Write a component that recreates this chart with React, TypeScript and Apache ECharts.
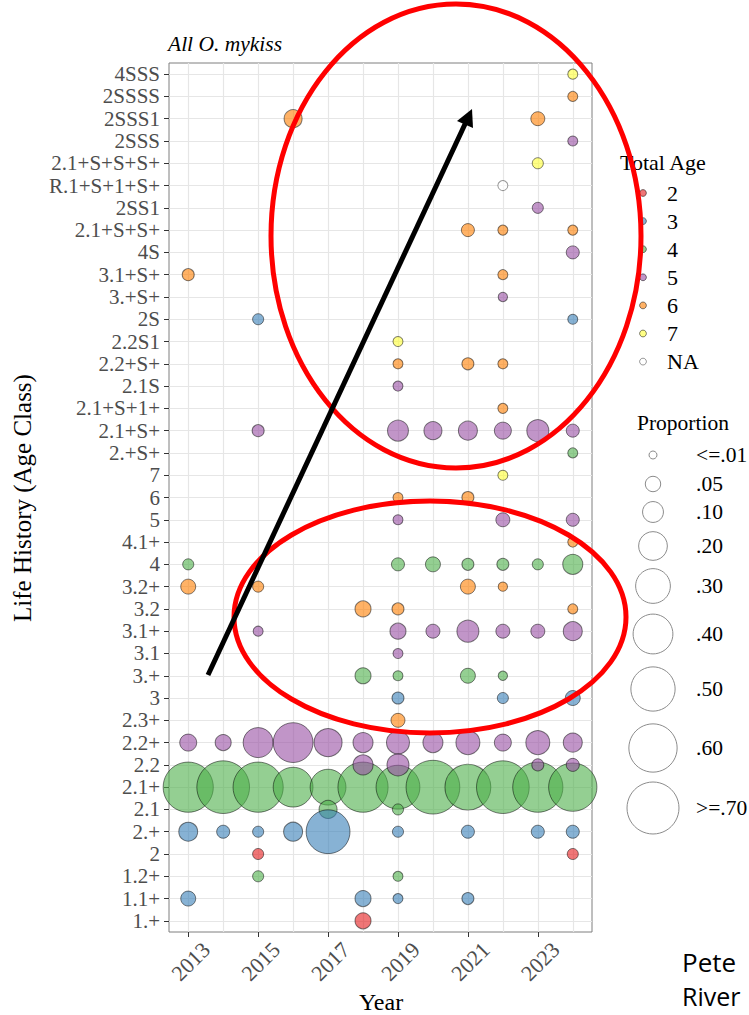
import React, { useEffect, useRef } from 'react';
import * as echarts from 'echarts';

// ---------- data ----------
const categories = [
  '4SSS', '2SSSS', '2SSS1', '2SSS', '2.1+S+S+S+', 'R.1+S+1+S+', '2SS1', '2.1+S+S+', '4S', '3.1+S+',
  '3.+S+', '2S', '2.2S1', '2.2+S+', '2.1S', '2.1+S+1+', '2.1+S+', '2.+S+', '7', '6', '5', '4.1+',
  '4', '3.2+', '3.2', '3.1+', '3.1', '3.+', '3', '2.3+', '2.2+', '2.2', '2.1+', '2.1', '2.+', '2',
  '1.2+', '1.1+', '1.+',
];
const years = [2013, 2014, 2015, 2016, 2017, 2018, 2019, 2020, 2021, 2022, 2023, 2024];
const yearTicks = [2013, 2015, 2017, 2019, 2021, 2023];

type Pt = [number, string, number];

const age2: Pt[] = [
  [2015, '2', 0.023], [2024, '2', 0.023], [2018, '1.+', 0.055],
];
const age3: Pt[] = [
  [2015, '2S', 0.023], [2024, '2S', 0.018],
  [2019, '3', 0.028], [2022, '3', 0.023], [2024, '3', 0.047],
  [2013, '2.+', 0.08], [2014, '2.+', 0.034], [2015, '2.+', 0.023], [2016, '2.+', 0.081],
  [2017, '2.+', 0.49], [2019, '2.+', 0.023], [2021, '2.+', 0.034], [2023, '2.+', 0.034],
  [2024, '2.+', 0.034],
  [2013, '1.1+', 0.047], [2018, '1.1+', 0.055], [2019, '1.1+', 0.018], [2021, '1.1+', 0.028],
];
const age4: Pt[] = [
  [2024, '2.+S+', 0.018],
  [2013, '4', 0.023], [2019, '4', 0.034], [2020, '4', 0.047], [2021, '4', 0.028],
  [2022, '4', 0.028], [2023, '4', 0.023], [2024, '4', 0.091],
  [2018, '3.+', 0.055], [2019, '3.+', 0.018], [2021, '3.+', 0.047], [2022, '3.+', 0.015],
  [2013, '2.1+', 0.65], [2014, '2.1+', 0.72], [2015, '2.1+', 0.65], [2016, '2.1+', 0.4],
  [2017, '2.1+', 0.32], [2018, '2.1+', 0.65], [2019, '2.1+', 0.49], [2020, '2.1+', 0.75],
  [2021, '2.1+', 0.54], [2022, '2.1+', 0.72], [2023, '2.1+', 0.65], [2024, '2.1+', 0.6],
  [2017, '2.1', 0.072], [2019, '2.1', 0.023],
  [2015, '1.2+', 0.023], [2019, '1.2+', 0.018],
];
const age5: Pt[] = [
  [2024, '2SSS', 0.018], [2023, '2SS1', 0.023], [2024, '4S', 0.034], [2022, '3.+S+', 0.015],
  [2019, '2.1S', 0.018],
  [2015, '2.1+S+', 0.028], [2019, '2.1+S+', 0.1], [2020, '2.1+S+', 0.072], [2021, '2.1+S+', 0.081],
  [2022, '2.1+S+', 0.063], [2023, '2.1+S+', 0.112], [2024, '2.1+S+', 0.034],
  [2019, '5', 0.018], [2022, '5', 0.04], [2024, '5', 0.034],
  [2015, '3.1+', 0.018], [2019, '3.1+', 0.055], [2020, '3.1+', 0.04], [2021, '3.1+', 0.112],
  [2022, '3.1+', 0.04], [2023, '3.1+', 0.04], [2024, '3.1+', 0.081],
  [2019, '3.1', 0.018],
  [2013, '2.2+', 0.063], [2014, '2.2+', 0.055], [2015, '2.2+', 0.22], [2016, '2.2+', 0.4],
  [2017, '2.2+', 0.19], [2018, '2.2+', 0.091], [2019, '2.2+', 0.123], [2020, '2.2+', 0.091],
  [2021, '2.2+', 0.135], [2022, '2.2+', 0.063], [2023, '2.2+', 0.135], [2024, '2.2+', 0.081],
  [2018, '2.2', 0.091], [2019, '2.2', 0.112], [2023, '2.2', 0.028], [2024, '2.2', 0.034],
];
const age6: Pt[] = [
  [2024, '2SSSS', 0.018], [2016, '2SSS1', 0.072], [2023, '2SSS1', 0.04],
  [2021, '2.1+S+S+', 0.034], [2022, '2.1+S+S+', 0.018], [2024, '2.1+S+S+', 0.018],
  [2013, '3.1+S+', 0.028], [2022, '3.1+S+', 0.018],
  [2019, '2.2+S+', 0.018], [2021, '2.2+S+', 0.028], [2022, '2.2+S+', 0.018],
  [2022, '2.1+S+1+', 0.018],
  [2019, '6', 0.018], [2021, '6', 0.028],
  [2024, '4.1+', 0.018],
  [2013, '3.2+', 0.047], [2015, '3.2+', 0.023], [2021, '3.2+', 0.047], [2022, '3.2+', 0.015],
  [2018, '3.2', 0.055], [2019, '3.2', 0.028], [2024, '3.2', 0.018],
  [2019, '2.3+', 0.04],
];
const age7: Pt[] = [
  [2024, '4SSS', 0.018], [2023, '2.1+S+S+S+', 0.023], [2019, '2.2S1', 0.018], [2022, '7', 0.018],
];
const ageNA: Pt[] = [
  [2022, 'R.1+S+1+S+', 0.018],
];

const ageNames = ['2', '3', '4', '5', '6', '7', 'NA'];
const ageData: Record<string, Pt[]> = { '2': age2, '3': age3, '4': age4, '5': age5, '6': age6, '7': age7, NA: ageNA };
const drawOrder = ['4', '3', '5', '6', '2', '7', 'NA'];

const proportionBreaks = [0.01, 0.05, 0.1, 0.2, 0.3, 0.4, 0.5, 0.6, 0.7];
const proportionLabels = ['<=.01', '.05', '.10', '.20', '.30', '.40', '.50', '.60', '>=.70'];

// ---------- styles ----------
const SERIF = '"Liberation Serif", "Times New Roman", serif';
const SANS = '"Open Sans", "Noto Sans", sans-serif';
const ageFill: Record<string, string> = {
  '2': 'rgba(228,26,28,0.6)',
  '3': 'rgba(55,126,184,0.6)',
  '4': 'rgba(77,175,74,0.6)',
  '5': 'rgba(152,78,163,0.6)',
  '6': 'rgba(255,127,0,0.6)',
  '7': 'rgba(255,255,51,0.6)',
  NA: 'rgba(255,255,255,0.6)',
};
const ageStroke: Record<string, string> = {
  '2': 'rgba(0,0,0,0.5)', '3': 'rgba(0,0,0,0.5)', '4': 'rgba(0,0,0,0.5)', '5': 'rgba(0,0,0,0.5)',
  '6': 'rgba(0,0,0,0.5)', '7': 'rgba(0,0,0,0.5)', NA: 'rgba(0,0,0,0.4)',
};

const sizeOf = (p: number) => 8 + (44 * (Math.sqrt(Math.max(p, 0.01)) - 0.1)) / 0.737;

function buildOption() {
  const series: any[] = [];
  series.push({
    type: 'scatter',
    name: 'gridlines',
    data: [],
    silent: true,
    z: 1,
    markLine: {
      silent: true,
      z: 1,
      symbol: ['none', 'none'],
      label: { show: false },
      emphasis: { disabled: true },
      lineStyle: { color: '#e6e6e6', width: 1.2, type: 'solid' },
      data: [
        ...years.map((y) => ({ xAxis: y })),
        ...categories.map((_c, i) => ({ yAxis: i })),
      ],
    },
  });
  drawOrder.forEach((age) => {
    series.push({
      type: 'scatter',
      name: age,
      z: 3,
      clip: true,
      symbol: 'circle',
      data: ageData[age],
      symbolSize: (v: any) => sizeOf(v[2]),
      itemStyle: { color: ageFill[age], borderColor: ageStroke[age], borderWidth: 1, opacity: 1 },
      emphasis: { disabled: true },
    });
  });

  const g: any[] = [];
  const txt = (x: number, y: number, text: string, size: number, extra: any = {}, elx: any = {}) => ({
    type: 'text',
    x,
    y,
    z: 50,
    ...elx,
    style: {
      text,
      fontFamily: SERIF,
      fontSize: size,
      fill: '#000',
      align: 'left',
      verticalAlign: 'middle',
      ...extra,
    },
  });
  g.push(txt(168, 44, 'All O. mykiss', 21.5, { fontStyle: 'italic' }));
  g.push(txt(22, 498, 'Life History (Age Class)', 25, { align: 'center' }, { rotation: Math.PI / 2 }));
  g.push(txt(381, 1002, 'Year', 24, { align: 'center' }));

  // Total Age legend
  g.push(txt(620, 162, 'Total Age', 22));
  ageNames.forEach((age, i) => {
    const cy = 193 + i * 28.1;
    g.push({
      type: 'circle',
      z: 50,
      shape: { cx: 643, cy, r: 3.4 },
      style: { fill: ageFill[age], stroke: ageStroke[age], lineWidth: 1 },
    });
    g.push(txt(667, cy, age, 22));
  });

  // Proportion legend
  g.push(txt(637, 423, 'Proportion', 21.5));
  const propY = [455, 484, 512, 546, 586, 634, 689, 748, 808];
  proportionBreaks.forEach((p, i) => {
    g.push({
      type: 'circle',
      z: 50,
      shape: { cx: 653, cy: propY[i], r: sizeOf(p) / 2 },
      style: { fill: 'none', stroke: '#8c8c8c', lineWidth: 1 },
    });
    g.push(txt(696, propY[i], proportionLabels[i], 21.5));
  });

  // annotations
  g.push({
    type: 'ellipse', z: 100, silent: true,
    shape: { cx: 456, cy: 236, rx: 185, ry: 232 },
    style: { fill: 'none', stroke: '#ff0000', lineWidth: 5 },
  });
  g.push({
    type: 'ellipse', z: 100, silent: true,
    shape: { cx: 430, cy: 617, rx: 196, ry: 116 },
    style: { fill: 'none', stroke: '#ff0000', lineWidth: 5 },
  });
  g.push({
    type: 'line', z: 101, silent: true,
    shape: { x1: 208, y1: 675, x2: 466, y2: 122 },
    style: { stroke: '#000', lineWidth: 5 },
  });
  g.push({
    type: 'polygon', z: 101, silent: true,
    shape: { points: [[472, 109], [473, 128], [457, 121]] },
    style: { fill: '#000' },
  });
  g.push(txt(682, 962, 'Pete', 26, { fontFamily: SANS }, { z: 60 }));
  g.push(txt(682, 996, 'River', 25, { fontFamily: SANS }, { z: 60 }));

  return {
    animation: false,
    backgroundColor: '#ffffff',
    grid: {
      left: 169, top: 63, width: 423, height: 869,
      show: true, borderColor: '#7f7f7f', borderWidth: 1, backgroundColor: 'transparent',
    },
    xAxis: {
      type: 'value',
      min: 2012.45,
      max: 2024.55,
      axisLine: { show: false },
      splitLine: { show: false },
      axisTick: { show: true, customValues: yearTicks, length: 5, lineStyle: { color: '#333333' } },
      axisLabel: {
        customValues: yearTicks,
        rotate: 45,
        align: 'center',
        verticalAlign: 'middle',
        padding: [7, 0, 0, 7],
        margin: 32,
        fontFamily: SERIF,
        fontSize: 22,
        color: '#4d4d4d',
        formatter: (v: number) => String(v),
      },
    },
    yAxis: {
      type: 'category',
      inverse: true,
      data: categories,
      boundaryGap: true,
      axisLine: { show: false },
      splitLine: { show: false },
      axisTick: { show: true, alignWithLabel: true, interval: 0, length: 5, lineStyle: { color: '#333333' } },
      axisLabel: { interval: 0, margin: 9, fontFamily: SERIF, fontSize: 21, color: '#4d4d4d' },
    },
    series,
    graphic: { elements: g },
  };
}

export default function App() {
  const ref = useRef<HTMLDivElement>(null);
  useEffect(() => {
    if (!ref.current) return;
    const chart = echarts.init(ref.current, null, { renderer: 'svg' });
    chart.setOption(buildOption() as any);
    return () => chart.dispose();
  }, []);
  return (
    <div
      ref={ref}
      style={{ position: 'fixed', left: 0, top: 0, width: 749, height: 1015, background: '#fff' }}
    />
  );
}
